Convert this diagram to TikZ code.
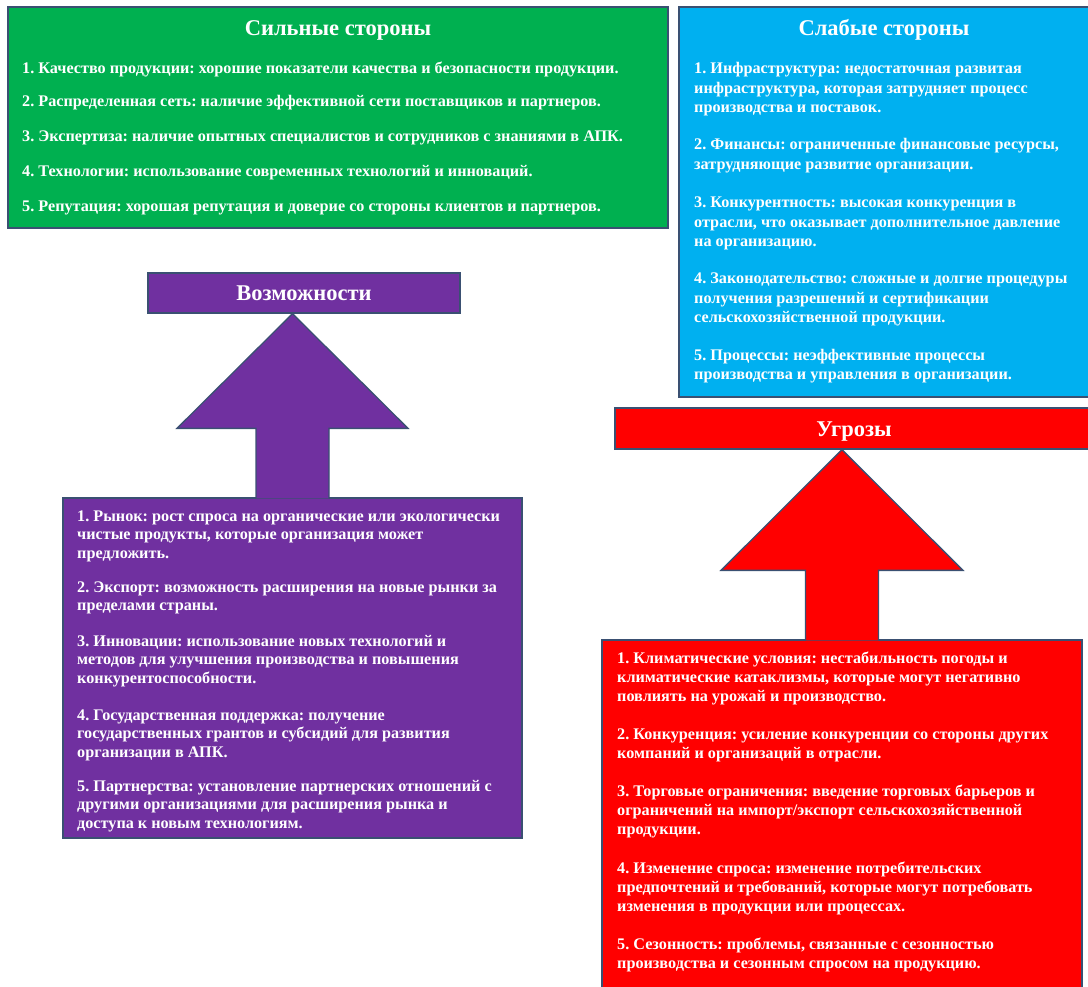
\documentclass[tikz,border=0pt]{standalone}
\usepackage{fontspec}
\setmainfont{Liberation Serif}
\usetikzlibrary{fit,calc}

\definecolor{swotgreen}{HTML}{00B050}
\definecolor{swotblue}{HTML}{00B0F0}
\definecolor{swotpurple}{HTML}{7030A0}
\definecolor{swotred}{HTML}{FF0000}
\definecolor{edgeline}{HTML}{3A5072}

% Multi-line entries are placed by the baseline of their last line.
\tikzset{
  panel/.style={draw=edgeline, line width=1.3pt, inner sep=0pt, fill=#1},
  heading/.style={text=white, anchor=base, inner sep=0pt,
    font=\fontsize{22.5}{26}\selectfont\bfseries},
  entry/.style={text=white, align=left, anchor=base west, inner sep=0pt,
    font=\frenchspacing\fontsize{16.2}{#1}\selectfont\bfseries},
  uparrow/.style={draw=edgeline, line width=1.3pt, line join=miter, fill=#1},
}

\begin{document}
\frenchspacing
\begin{tikzpicture}[x=1pt, y=-1pt]
\useasboundingbox (0,0) rectangle (1088,987);
\clip (0,0) rectangle (1088,987);

% ---------- Strengths ----------
\node[panel=swotgreen, fit={(8,7) (668,228)}] (strong) {};
\node[heading] (strongtitle) at (338,36) {Сильные стороны};
\node[entry=20] (s1) at (22,74)  {1. Качество продукции: хорошие показатели качества и безопасности продукции.};
\node[entry=20] (s2) at (22,107) {2. Распределенная сеть: наличие эффективной сети поставщиков и партнеров.};
\node[entry=20] (s3) at (22,142) {3. Экспертиза: наличие опытных специалистов и сотрудников с знаниями в АПК.};
\node[entry=20] (s4) at (22,177) {4. Технологии: использование современных технологий и инноваций.};
\node[entry=20] (s5) at (22,212) {5. Репутация: хорошая репутация и доверие со стороны клиентов и партнеров.};

% ---------- Weaknesses ----------
\node[panel=swotblue, fit={(679,7) (1096,397)}] (weak) {};
\node[heading] (weaktitle) at (884,36) {Слабые стороны};
\node[entry=19.5] (w1) at (694,113)   {1. Инфраструктура: недостаточная развитая\\инфраструктура, которая затрудняет процесс\\производства и поставок.};
\node[entry=19.5] (w2) at (694,169.5) {2. Финансы: ограниченные финансовые ресурсы,\\затрудняющие развитие организации.};
\node[entry=19.5] (w3) at (694,247)   {3. Конкурентность: высокая конкуренция в\\отрасли, что оказывает дополнительное давление\\на организацию.};
\node[entry=19.5] (w4) at (694,323)   {4. Законодательство: сложные и долгие процедуры\\получения разрешений и сертификации\\сельскохозяйственной продукции.};
\node[entry=19.5] (w5) at (694,379.5) {5. Процессы: неэффективные процессы\\производства и управления в организации.};

% ---------- Opportunities ----------
\node[panel=swotpurple, fit={(148,273) (460,313)}] (opptitle) {};
\node[heading] (opphead) at (304,301) {Возможности};
\node[panel=swotpurple, fit={(63,498) (522,838)}] (oppbody) {};
\coordinate (oppbase) at (oppbody.north);
\coordinate (opptip) at (oppbody.north |- opptitle.south);
\path[uparrow=swotpurple]
  ($(oppbase)+(-36.5,1)$) -- ($(oppbase)+(-36.5,-69)$) -- ($(oppbase)+(-115.5,-69)$)
  -- (opptip)
  -- ($(oppbase)+(115.5,-69)$) -- ($(oppbase)+(36.5,-69)$) -- ($(oppbase)+(36.5,1)$);
\node[entry=18.5] (o1) at (77,558)   {1. Рынок: рост спроса на органические или экологически\\чистые продукты, которые организация может\\предложить.};
\node[entry=18.5] (o2) at (77,610.5) {2. Экспорт: возможность расширения на новые рынки за\\пределами страны.};
\node[entry=18.5] (o3) at (77,683)   {3. Инновации: использование новых технологий и\\методов для улучшения производства и повышения\\конкурентоспособности.};
\node[entry=18.5] (o4) at (77,757)   {4. Государственная поддержка: получение\\государственных грантов и субсидий для развития\\организации в АПК.};
\node[entry=18.5] (o5) at (77,828)   {5. Партнерства: установление партнерских отношений с\\другими организациями для расширения рынка и\\доступа к новым технологиям.};

% ---------- Threats ----------
\node[panel=swotred, fit={(615,408) (1096,449)}] (threattitle) {};
\node[heading] (threathead) at (854,436) {Угрозы};
\node[panel=swotred, fit={(602,640) (1082,1000)}] (threatbody) {};
\coordinate (thrbase) at (threatbody.north);
\coordinate (thrtip) at (threatbody.north |- threattitle.south);
\path[uparrow=swotred]
  ($(thrbase)+(-36.5,1)$) -- ($(thrbase)+(-36.5,-69)$) -- ($(thrbase)+(-121,-69)$)
  -- (thrtip)
  -- ($(thrbase)+(121,-69)$) -- ($(thrbase)+(36.5,-69)$) -- ($(thrbase)+(36.5,1)$);
\node[entry=19] (t1) at (617,701) {1. Климатические условия: нестабильность погоды и\\климатические катаклизмы, которые могут негативно\\повлиять на урожай и производство.};
\node[entry=19] (t2) at (617,758) {2. Конкуренция: усиление конкуренции со стороны других\\компаний и организаций в отрасли.};
\node[entry=19] (t3) at (617,834) {3. Торговые ограничения: введение торговых барьеров и\\ограничений на импорт/экспорт сельскохозяйственной\\продукции.};
\node[entry=19] (t4) at (617,911) {4. Изменение спроса: изменение потребительских\\предпочтений и требований, которые могут потребовать\\изменения в продукции или процессах.};
\node[entry=19] (t5) at (617,968) {5. Сезонность: проблемы, связанные с сезонностью\\производства и сезонным спросом на продукцию.};
\end{tikzpicture}
\end{document}
